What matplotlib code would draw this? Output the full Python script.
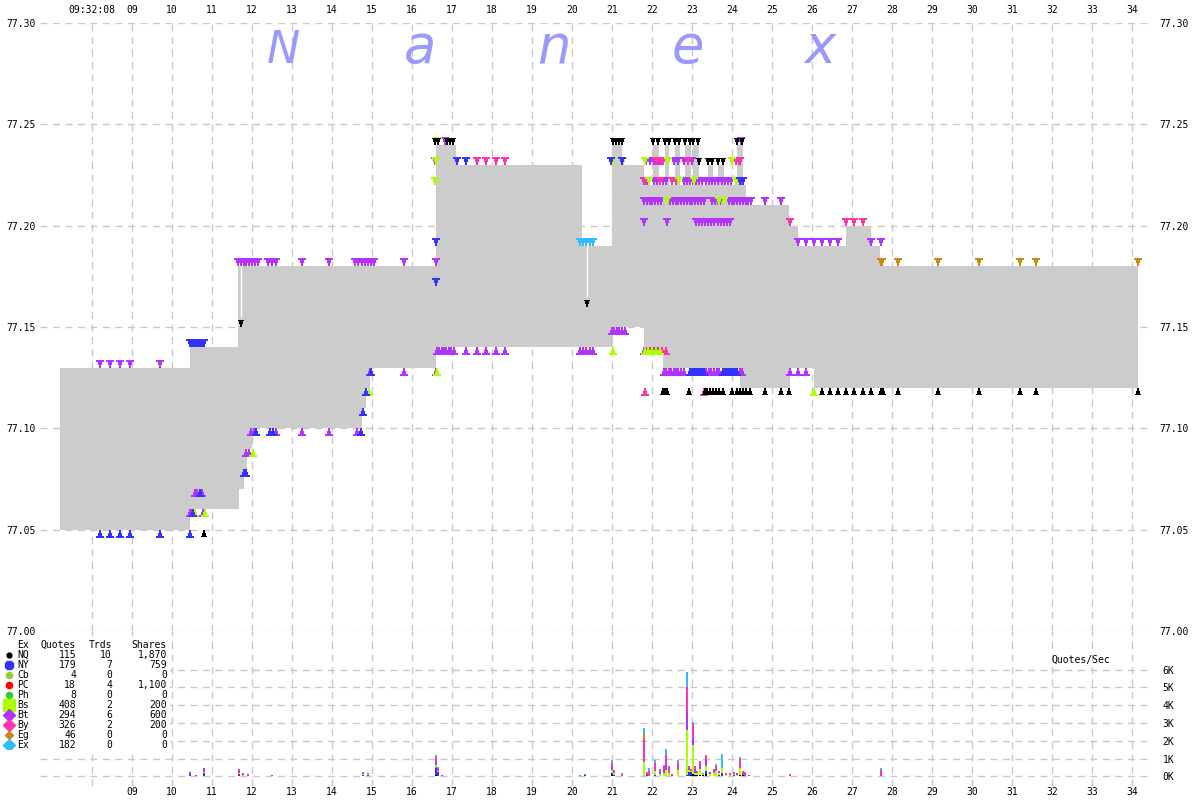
"""
Nanex-style tick chart: NBBO spread, exchange quotes and quote rate,
09:32:07 - 09:32:34.
"""
import matplotlib
matplotlib.use("Agg")
import matplotlib.pyplot as plt
import numpy as np

W, H = 1200, 800
FONT = "DejaVu Sans Mono"

# ---- NBBO (seconds after 09:32:00) ---------------------------------------- #
ASK_T = [7.2, 10.45, 11.65, 16.6, 17.1, 20.25, 21.0, 21.25, 21.8, 22.03, 22.18,
         22.33, 22.43, 22.58, 22.7, 22.83, 22.98, 23.03, 23.18, 23.4, 23.52,
         23.65, 23.8, 24.13, 24.28, 24.35, 25.43, 25.65, 26.85, 27.48, 27.7, 34.15]
ASK_P = [77.13, 77.14, 77.18, 77.24, 77.23, 77.19, 77.24, 77.23, 77.22, 77.24, 77.22,
         77.24, 77.22, 77.24, 77.22, 77.24, 77.22, 77.24, 77.22, 77.23, 77.22,
         77.23, 77.22, 77.24, 77.22, 77.21, 77.20, 77.19, 77.20, 77.19, 77.18, 77.18]
BID_T = [7.2, 10.45, 11.68, 11.8, 11.88, 12.0, 14.75, 14.85, 14.95, 16.6, 21.03,
         21.8, 22.28, 24.2, 25.45, 26.05, 34.15]
BID_P = [77.05, 77.06, 77.07, 77.08, 77.09, 77.10, 77.11, 77.12, 77.13, 77.14, 77.15,
         77.14, 77.13, 77.12, 77.13, 77.12, 77.12]

# white connector lines (time, low, high)
WLINE_T = [11.72, 20.38]
WLINE_LO = [77.155, 77.165]
WLINE_HI = [77.18, 77.19]

# ---- exchange quotes: (price, [times]) ------------------------------------ #
ASK_NQ = [(77.24, [16.58, 16.65, 16.88, 16.95, 17.03, 21.02, 21.1, 21.18, 21.25,
                   22.03, 22.15, 22.33, 22.42, 22.58, 22.68, 22.83, 22.95, 23.03,
                   23.15, 24.13, 24.26]),
          (77.23, [23.18, 23.4, 23.5, 23.65, 23.78]),
          (77.16, [20.38]),
          (77.15, [11.72])]
ASK_NY = [(77.14, [10.45, 10.5, 10.55, 10.6, 10.65, 10.7, 10.75, 10.8]),
          (77.23, [17.12, 17.35, 20.98, 21.25]),
          (77.22, [24.2, 24.27]),
          (77.19, [16.6]),
          (77.17, [16.6])]
ASK_BS = [(77.24, [16.65]),
          (77.23, [16.6, 21.03, 21.27, 21.82, 22.4, 24.0]),
          (77.22, [16.58, 21.92, 22.68, 23.05, 24.1, 24.2]),
          (77.21, [22.38, 23.68, 23.8])]
ASK_BT = [(77.13, [8.2, 8.45, 8.7, 8.95, 9.7]),
          (77.18, [11.65, 11.72, 11.79, 11.86, 11.93, 12.0, 12.07, 12.14, 12.4, 12.5,
                   12.6, 13.25, 13.92, 14.58, 14.66, 14.74, 14.82, 14.9, 14.98, 15.06,
                   15.8, 16.6]),
          (77.24, [16.82, 24.22]),
          (77.23, [21.85, 21.95, 22.05, 22.15, 22.25, 22.55, 22.65, 22.8, 22.9, 23.0,
                   24.0, 24.1, 24.2]),
          (77.22, [21.8, 21.88, 22.05, 22.12, 22.2, 22.28, 22.35, 22.8, 22.88, 22.95,
                   23.03, 23.1, 23.18, 23.26, 23.34, 23.42, 23.5, 23.58, 23.66, 23.74,
                   23.82, 23.9, 23.98]),
          (77.21, [21.8, 21.87, 21.94, 22.01, 22.08, 22.15, 22.22, 22.45, 22.52, 22.59,
                   22.66, 22.73, 22.8, 22.87, 22.94, 23.01, 23.08, 23.15, 23.22, 23.29,
                   23.5, 23.57, 23.64, 23.71, 23.92, 23.99, 24.06, 24.13, 24.2, 24.27,
                   24.34, 24.41, 24.48, 24.82, 25.22]),
          (77.20, [21.8, 22.38, 23.1, 23.17, 23.25, 23.32, 23.4, 23.48, 23.56, 23.64,
                   23.72, 23.8, 23.88, 23.96]),
          (77.19, [25.65, 25.85, 26.05, 26.25, 26.45, 26.65, 27.47, 27.72])]
ASK_BY = [(77.23, [16.57, 17.62, 17.85, 18.1, 18.32, 21.0, 22.1, 22.2, 22.28, 22.9,
                   24.1, 24.18]),
          (77.22, [21.82, 22.2, 22.5, 22.6, 24.22]),
          (77.20, [25.45, 26.85, 27.05, 27.27])]
ASK_EX = [(77.19, [20.2, 20.28, 20.36, 20.44, 20.52])]
ASK_EG = [(77.18, [27.72, 27.76, 28.15, 29.15, 30.17, 31.2, 31.6, 34.15])]

BID_NQ = [(77.05, [10.8]),
          (77.12, [22.28, 22.33, 22.38, 22.93, 23.33, 23.38, 23.45, 23.52, 23.6, 23.68,
                   23.78, 24.0, 24.13, 24.2, 24.28, 24.36, 24.45, 24.82, 25.22, 25.42,
                   26.25, 26.45, 26.65, 26.85, 27.05, 27.27, 27.47, 27.72, 27.78, 28.15,
                   29.15, 30.17, 31.2, 31.6, 34.15])]
BID_NY = [(77.05, [8.2, 8.45, 8.7, 8.95, 9.7, 10.45]),
          (77.06, [10.52]),
          (77.07, [10.7]),
          (77.08, [11.8, 11.86]),
          (77.10, [12.1, 12.45, 12.52, 14.72]),
          (77.11, [14.78]),
          (77.12, [14.84]),
          (77.13, [14.97, 22.95, 23.0, 23.05, 23.1, 23.15, 23.2, 23.25, 23.3, 23.78,
                   23.83, 23.88, 23.93, 23.98, 24.03, 24.08, 24.13])]
BID_BT = [(77.06, [10.45, 10.5, 10.78]),
          (77.07, [10.57, 10.63, 10.7, 10.76]),
          (77.09, [11.85, 11.92]),
          (77.10, [11.97, 12.05, 12.6, 13.25, 13.92, 14.62]),
          (77.13, [14.95, 15.8, 16.6]),
          (77.14, [16.62, 16.68, 16.74, 16.8, 16.86, 16.92, 16.98, 17.04, 17.35, 17.62,
                   17.85, 18.1, 18.32, 20.2, 20.28, 20.36, 20.44, 20.52, 21.8, 21.88,
                   21.96, 22.04, 22.12, 22.2]),
          (77.15, [21.0, 21.06, 21.12, 21.18, 21.25, 21.32]),
          (77.13, [22.3, 22.36, 22.42, 22.48, 22.54, 22.6, 22.66, 22.72, 22.8, 23.35,
                   23.42, 23.48, 23.55, 23.62, 23.68, 24.2, 24.26, 25.45, 25.65, 25.85])]
BID_BY = [(77.14, [21.95, 22.02, 22.1, 22.18, 22.26, 22.34]),
          (77.12, [21.82, 23.3])]
BID_BS = [(77.06, [10.57, 10.82]),
          (77.09, [12.03]),
          (77.12, [14.92, 26.05]),
          (77.13, [16.62]),
          (77.14, [21.03, 21.82, 21.9, 22.0, 22.1, 22.2])]

# ---- quote rate (quotes/sec), stacked by exchange ------------------------- #
VOL_T = [8.2, 8.45, 8.7, 8.95, 9.7, 10.45, 10.6, 10.8, 11.68, 11.78, 11.9, 12.5,
         13.3, 14.78, 14.9, 16.6, 16.66, 16.75, 17.1, 17.6, 20.2, 20.33, 20.45,
         21.0, 21.05, 21.25, 21.3, 21.8, 21.88, 21.92, 22.08, 22.2, 22.3, 22.36,
         22.42, 22.5, 22.65, 22.75, 22.88, 22.93, 22.98, 23.03, 23.08, 23.13, 23.2,
         23.28, 23.35, 23.45, 23.55, 23.6, 23.68, 23.75, 23.85, 23.95, 24.05, 24.12,
         24.2, 24.27, 24.33, 24.42, 25.45, 26.05, 27.72, 30.15, 31.2, 31.6, 34.15]
VOL_NQ = [20, 20, 20, 20, 20, 0, 0, 40, 30, 0, 0, 0, 0, 0, 20, 60, 0, 0, 0, 0, 0, 40, 0,
          80, 0, 0, 0, 0, 0, 0, 0, 0, 30, 0, 0, 0, 0, 0, 0, 0, 100, 150, 100, 80, 100,
          60, 150, 0, 0, 50, 0, 0, 0, 0, 0, 0, 100, 60, 0, 0, 0, 0, 0, 0, 0, 0, 0]
VOL_NY = [0, 0, 0, 0, 0, 80, 0, 150, 60, 50, 0, 40, 0, 80, 60, 350, 250, 40, 30, 0, 30,
          40, 0, 100, 100, 0, 0, 0, 100, 0, 100, 0, 0, 50, 0, 0, 50, 0, 100, 250, 150,
          0, 0, 0, 0, 0, 150, 0, 50, 0, 60, 200, 0, 0, 60, 0, 0, 0, 0, 50, 0, 0, 0, 0,
          0, 0, 0]
VOL_PC = [0, 0, 0, 0, 0, 0, 0, 0, 30, 0, 0, 0, 0, 0, 0, 80, 0, 0, 0, 0, 0, 0, 0, 0, 0,
          0, 0, 0, 0, 0, 0, 0, 0, 0, 0, 0, 0, 0, 0, 0, 0, 0, 0, 0, 0, 0, 0, 0, 0, 0, 0,
          0, 0, 0, 0, 0, 0, 0, 0, 0, 0, 0, 0, 0, 0, 0, 0]
VOL_PH = [0, 0, 0, 0, 0, 0, 0, 0, 0, 0, 0, 0, 0, 0, 0, 60, 0, 0, 0, 0, 0, 50, 20, 0, 0,
          0, 0, 0, 0, 0, 0, 0, 0, 0, 0, 0, 0, 0, 0, 0, 0, 0, 0, 0, 0, 0, 0, 0, 0, 0, 0,
          0, 0, 0, 0, 0, 0, 0, 0, 0, 0, 0, 0, 0, 0, 0, 0]
VOL_BS = [0, 0, 0, 0, 0, 0, 0, 80, 60, 40, 0, 0, 0, 50, 40, 120, 60, 0, 0, 0, 0, 0, 20,
          200, 100, 0, 0, 800, 0, 0, 200, 150, 150, 300, 200, 0, 300, 40, 2500, 100,
          50, 1600, 100, 100, 300, 80, 300, 150, 150, 250, 150, 250, 100, 80, 80, 100,
          400, 0, 0, 0, 0, 0, 0, 0, 0, 0, 0]
VOL_BT = [0, 0, 0, 0, 0, 170, 40, 150, 150, 100, 80, 30, 30, 100, 60, 150, 100, 30, 0,
          0, 0, 0, 0, 150, 0, 50, 0, 0, 50, 0, 0, 100, 200, 300, 0, 80, 0, 0, 1000, 150,
          0, 400, 150, 0, 200, 0, 300, 100, 0, 0, 80, 0, 0, 0, 0, 100, 0, 150, 150, 30,
          0, 20, 0, 0, 20, 20, 30]
VOL_BY = [0, 0, 0, 0, 0, 0, 20, 30, 100, 0, 40, 0, 0, 0, 0, 250, 90, 0, 0, 30, 0, 0, 0,
          250, 150, 100, 40, 1300, 80, 300, 450, 150, 200, 550, 400, 60, 400, 0, 1400,
          100, 100, 800, 250, 150, 250, 60, 300, 0, 200, 300, 0, 0, 100, 120, 100, 0,
          500, 100, 100, 0, 150, 0, 350, 20, 0, 0, 0]
VOL_EG = [0, 0, 0, 0, 0, 0, 0, 0, 0, 0, 0, 0, 0, 0, 0, 60, 0, 0, 0, 0, 0, 0, 0, 0, 0,
          0, 0, 300, 0, 0, 0, 0, 0, 0, 0, 0, 0, 0, 0, 0, 0, 0, 0, 0, 0, 0, 0, 0, 0, 0,
          0, 0, 0, 0, 0, 0, 0, 0, 0, 0, 0, 0, 0, 0, 0, 0, 0]
VOL_EX = [0, 0, 0, 0, 0, 0, 0, 0, 0, 0, 0, 0, 0, 0, 0, 70, 50, 0, 0, 0, 40, 20, 0, 150,
          0, 30, 0, 350, 0, 150, 200, 0, 50, 350, 0, 0, 200, 0, 850, 0, 0, 100, 0, 0, 0,
          0, 0, 0, 0, 100, 0, 800, 0, 0, 0, 0, 100, 0, 0, 0, 0, 0, 150, 0, 0, 0, 0]

# ---- per-exchange summary table ------------------------------------------ #
EX_NAMES = ["NQ", "NY", "Cb", "PC", "Ph", "Bs", "Bt", "By", "Eg", "Ex"]
QUOTES = [115, 179, 4, 18, 8, 408, 294, 326, 46, 182]
TRADES = [10, 7, 0, 4, 0, 2, 6, 2, 0, 0]
SHARES = [1870, 759, 0, 1100, 0, 200, 600, 200, 0, 0]

SEC_TICKS = list(range(8, 35))
TOP_LABELS = ["09:32:08"] + [f"{s:02d}" for s in SEC_TICKS[1:]]
BOT_LABELS = [""] + [f"{s:02d}" for s in SEC_TICKS[1:]]
PRICE_TICKS = [77.00, 77.05, 77.10, 77.15, 77.20, 77.25, 77.30]
RATE_TICKS = [0, 1000, 2000, 3000, 4000, 5000, 6000]

COL = {"NQ": "#000000", "NY": "#3333ff", "Cb": "#99cc33", "PC": "#ff0000",
       "Ph": "#33cc33", "Bs": "#aaff00", "Bt": "#b233ff", "By": "#ff33aa",
       "Eg": "#cc8811", "Ex": "#33bbff"}
GRID = dict(color="#c8c8c8", ls=(0, (5, 4)), lw=1.0)

PIN_DOWN = [(-0.45, 1.0), (0.45, 1.0), (0.45, 0.8), (0.3, 0.8), (0.3, 0.4),
            (0.08, 0.4), (0.08, 0.0), (-0.08, 0.0), (-0.08, 0.4), (-0.3, 0.4),
            (-0.3, 0.8), (-0.45, 0.8), (-0.45, 1.0)]
PIN_UP = [(x, -y) for x, y in PIN_DOWN]


def px_axes(fig, x0, y0, x1, y1):
    return fig.add_axes([x0 / W, 1 - y1 / H, (x1 - x0) / W, (y1 - y0) / H])


def draw_pins(ax, groups, color, marker, size=130):
    for price, times in groups:
        ax.scatter(times, [price] * len(times), marker=marker, s=size, c=color,
                   linewidths=0, zorder=4)


def main() -> None:
    fig = plt.figure(figsize=(W / 100, H / 100), dpi=100, facecolor="white")

    # ---- price panel ------------------------------------------------------ #
    ax = px_axes(fig, 40, 23, 1150, 631)
    ax.set_xlim(6.7, 34.45)
    ax.set_ylim(77.00, 77.30)
    for s in ax.spines.values():
        s.set_visible(False)
    ax.set_axisbelow(True)
    ax.grid(True, **GRID)
    ax.set_xticks(SEC_TICKS)
    ax.set_xticklabels(TOP_LABELS, fontfamily=FONT, fontsize=7)
    ax.xaxis.tick_top()
    ax.tick_params(axis="x", length=0, pad=6)
    ax.set_yticks(PRICE_TICKS)
    ax.set_yticklabels([f"{p:.2f}" for p in PRICE_TICKS], fontfamily=FONT, fontsize=7)
    ax.tick_params(axis="y", length=0, pad=3)

    axr = ax.twinx()
    axr.set_ylim(ax.get_ylim())
    axr.set_yticks(PRICE_TICKS)
    axr.set_yticklabels([f"{p:.2f}" for p in PRICE_TICKS], fontfamily=FONT, fontsize=7)
    axr.tick_params(axis="y", length=0, pad=7)
    for s in axr.spines.values():
        s.set_visible(False)

    # NBBO spread
    tt = np.union1d(ASK_T, BID_T)
    ask = np.asarray(ASK_P)[np.searchsorted(ASK_T, tt, side="right") - 1]
    bid = np.asarray(BID_P)[np.searchsorted(BID_T, tt, side="right") - 1]
    ax.fill_between(tt, bid, ask, step="post", color="#cccccc", lw=0, zorder=1)
    ax.vlines(WLINE_T, WLINE_LO, WLINE_HI, color="white", lw=1, zorder=2)

    draw_pins(ax, ASK_EG, COL["Eg"], PIN_DOWN)
    draw_pins(ax, ASK_EX, COL["Ex"], PIN_DOWN)
    draw_pins(ax, ASK_BT, COL["Bt"], PIN_DOWN)
    draw_pins(ax, ASK_BY, COL["By"], PIN_DOWN)
    draw_pins(ax, ASK_BS, COL["Bs"], PIN_DOWN)
    draw_pins(ax, ASK_NY, COL["NY"], PIN_DOWN)
    draw_pins(ax, ASK_NQ, COL["NQ"], PIN_DOWN, size=110)
    draw_pins(ax, BID_BT, COL["Bt"], PIN_UP)
    draw_pins(ax, BID_BY, COL["By"], PIN_UP)
    draw_pins(ax, BID_BS, COL["Bs"], PIN_UP)
    draw_pins(ax, BID_NY, COL["NY"], PIN_UP)
    draw_pins(ax, BID_NQ, COL["NQ"], PIN_UP, size=110)

    # watermark
    for ch, x, size in (("N", 283, 32), ("a", 420, 38), ("n", 554, 38),
                        ("e", 688, 38), ("x", 820, 38)):
        fig.text(x / W, 1 - 63 / H, ch, ha="center", va="baseline", style="italic",
                 fontsize=size, color="#9999ff",
                 family=["Liberation Sans Narrow", "DejaVu Sans"])

    # ---- quote-rate panel ------------------------------------------------- #
    ax2 = px_axes(fig, 40, 631, 1150, 786)
    ax2.set_xlim(ax.get_xlim())
    ax2.set_ylim(-534, 8174)
    ax2.patch.set_alpha(0)
    for s in ax2.spines.values():
        s.set_visible(False)
    ax2.set_axisbelow(True)
    ax2.grid(True, **GRID)
    ax2.set_xticks(SEC_TICKS)
    ax2.set_xticklabels(BOT_LABELS, fontfamily=FONT, fontsize=7)
    ax2.tick_params(axis="x", length=0, pad=1)
    ax2.set_yticks(RATE_TICKS)
    ax2.set_yticklabels([f"{v // 1000}K" for v in RATE_TICKS], fontfamily=FONT,
                        fontsize=7)
    ax2.yaxis.tick_right()
    ax2.tick_params(axis="y", length=0, pad=9)

    bottom = np.zeros(len(VOL_T))
    for name, vals in (("NQ", VOL_NQ), ("NY", VOL_NY), ("PC", VOL_PC), ("Ph", VOL_PH),
                       ("Bs", VOL_BS), ("Bt", VOL_BT), ("By", VOL_BY), ("Eg", VOL_EG),
                       ("Ex", VOL_EX)):
        v = np.asarray(vals, dtype=float)
        ax2.bar(VOL_T, v, width=0.05, bottom=bottom, color=COL[name], lw=0, zorder=2)
        bottom += v

    fig.text(1081 / W, 1 - 660 / H, "Quotes/Sec", ha="center", va="center",
             family=FONT, fontsize=7)

    # ---- summary table ---------------------------------------------------- #
    lg = px_axes(fig, 0, 637, 170, 749)
    lg.set_xlim(0, 170)
    lg.set_ylim(749, 637)
    lg.set_facecolor("white")
    lg.set_xticks([])
    lg.set_yticks([])
    for s in lg.spines.values():
        s.set_visible(False)
    txt = dict(family=FONT, fontsize=7, va="center")
    lg.text(17, 645, "Ex", ha="left", **txt)
    lg.text(76, 645, "Quotes", ha="right", **txt)
    lg.text(112, 645, "Trds", ha="right", **txt)
    lg.text(167, 645, "Shares", ha="right", **txt)
    mk = {"NQ": ("o", 3.5), "NY": ("8", 7), "Cb": ("o", 4.5), "PC": ("o", 4.5),
          "Ph": ("o", 4.5), "Bs": ("s", 8.5), "Bt": ("D", 6.5), "By": ("D", 6.5),
          "Eg": ("D", 4.5), "Ex": ("D", 6)}
    for i, name in enumerate(EX_NAMES):
        y = 655 + 10 * i
        m, ms = mk[name]
        lg.plot([9], [y], marker=m, ms=ms, color=COL[name], mec=COL[name], ls="none")
        lg.text(17, y, name, ha="left", **txt)
        lg.text(76, y, f"{QUOTES[i]}", ha="right", **txt)
        lg.text(112, y, f"{TRADES[i]}", ha="right", **txt)
        lg.text(167, y, f"{SHARES[i]:,}", ha="right", **txt)

    fig.savefig("out.png", dpi=100, facecolor="white")
    plt.close(fig)


if __name__ == "__main__":
    main()
